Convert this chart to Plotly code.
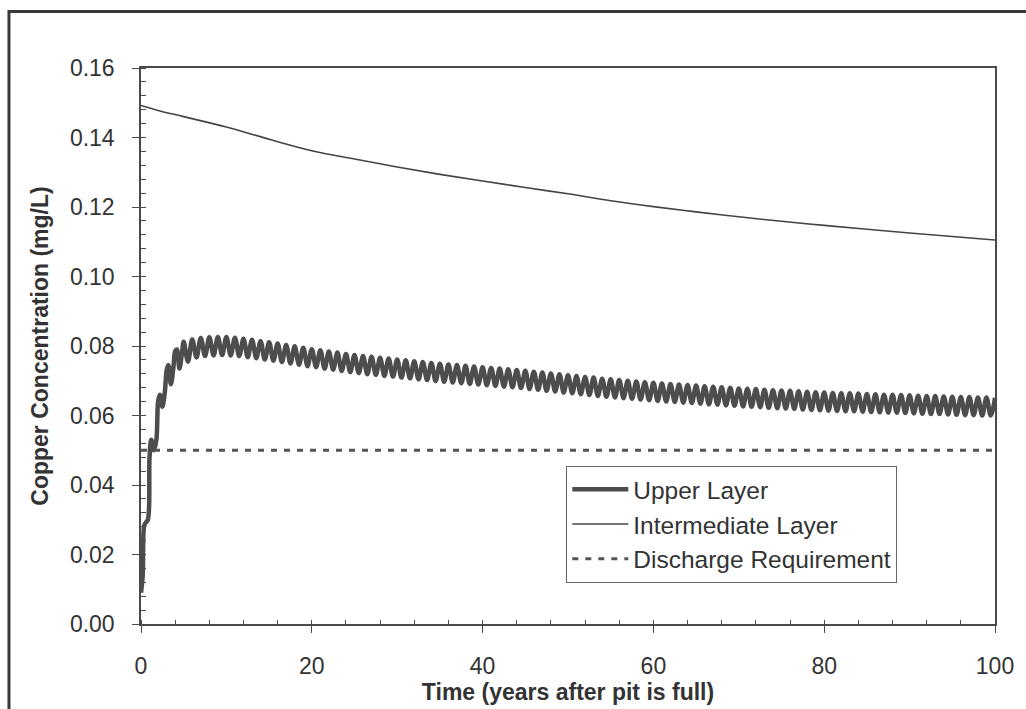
import numpy as np
import plotly.graph_objects as go

# ---------------- data ----------------
# Upper layer: early build-up (years, mg/L)
upper_early_t = [0.0, 0.2, 0.35, 0.5, 0.8, 1.0, 1.2, 1.5, 1.8, 2.0, 2.2, 2.5, 2.8,
                 3.0, 3.2, 3.5, 3.8, 4.0, 4.2, 4.5, 4.8, 5.0, 5.5]
upper_early_v = [0.009, 0.014, 0.028, 0.029, 0.030, 0.048, 0.053, 0.050, 0.053,
                 0.064, 0.066, 0.0625, 0.067, 0.073, 0.0745, 0.069, 0.074, 0.0785,
                 0.079, 0.0735, 0.078, 0.0812, 0.0755]

# Upper layer: seasonal peaks (at whole years 6..100) and troughs (mid-year 6.5..99.5)
upper_peak_years = list(range(6, 101))
upper_peaks = [
    0.0819, 0.0823, 0.0825, 0.0826, 0.0826, 0.0824, 0.0821, 0.0818, 0.0814, 0.0811,
    0.0807, 0.0803, 0.0799, 0.0795, 0.0791, 0.0788, 0.0784, 0.0781, 0.0777, 0.0774,
    0.0771, 0.0769, 0.0766, 0.0764, 0.0761, 0.0759, 0.0756, 0.0754, 0.0751, 0.0749,
    0.0747, 0.0745, 0.0743, 0.0741, 0.0739, 0.0737, 0.0735, 0.0733, 0.0731, 0.0729,
    0.0726, 0.0724, 0.0721, 0.0719, 0.0716, 0.0714, 0.0711, 0.0709, 0.0706, 0.0704,
    0.0702, 0.0700, 0.0698, 0.0696, 0.0694, 0.0692, 0.0691, 0.0689, 0.0688, 0.0686,
    0.0684, 0.0683, 0.0681, 0.0680, 0.0678, 0.0677, 0.0676, 0.0674, 0.0673, 0.0672,
    0.0671, 0.0670, 0.0668, 0.0667, 0.0666, 0.0665, 0.0664, 0.0664, 0.0663, 0.0662,
    0.0661, 0.0660, 0.0660, 0.0659, 0.0658, 0.0657, 0.0656, 0.0656, 0.0655, 0.0654,
    0.0653, 0.0653, 0.0652, 0.0652, 0.0651]
upper_troughs = [
    0.0767, 0.0771, 0.0773, 0.0774, 0.0773, 0.0771, 0.0768, 0.0765, 0.0761, 0.0758,
    0.0754, 0.0750, 0.0746, 0.0742, 0.0739, 0.0735, 0.0732, 0.0728, 0.0725, 0.0722,
    0.0719, 0.0717, 0.0714, 0.0712, 0.0709, 0.0707, 0.0704, 0.0702, 0.0699, 0.0697,
    0.0695, 0.0693, 0.0691, 0.0689, 0.0687, 0.0685, 0.0683, 0.0681, 0.0679, 0.0676,
    0.0674, 0.0671, 0.0669, 0.0666, 0.0664, 0.0661, 0.0659, 0.0656, 0.0654, 0.0652,
    0.0650, 0.0648, 0.0646, 0.0644, 0.0642, 0.0640, 0.0639, 0.0637, 0.0636, 0.0634,
    0.0632, 0.0631, 0.0629, 0.0628, 0.0626, 0.0625, 0.0624, 0.0622, 0.0621, 0.0620,
    0.0619, 0.0617, 0.0616, 0.0615, 0.0614, 0.0613, 0.0612, 0.0612, 0.0611, 0.0610,
    0.0609, 0.0608, 0.0608, 0.0607, 0.0606, 0.0605, 0.0604, 0.0604, 0.0603, 0.0602,
    0.0601, 0.0601, 0.0600, 0.0600]

# Intermediate layer
inter_t = [0, 2, 5, 10, 15, 20, 25, 30, 35, 40, 45, 50, 55, 60, 65, 70, 75, 80, 85, 90, 95, 100]
inter_v = [0.1492, 0.1478, 0.1460, 0.1430, 0.1395, 0.1362, 0.1338, 0.1315, 0.1294, 0.1275,
           0.1256, 0.1238, 0.1218, 0.1201, 0.1186, 0.1172, 0.1159, 0.1147, 0.1136, 0.1125,
           0.1115, 0.1105]

# Discharge requirement
discharge_t = [0, 100]
discharge_v = [0.05, 0.05]

# ---------------- build upper series ----------------
ut = list(upper_early_t)
uv = list(upper_early_v)
for i, yr in enumerate(upper_peak_years):
    ut.append(yr)
    uv.append(upper_peaks[i])
    if i < len(upper_troughs):
        ut.append(yr + 0.5)
        uv.append(upper_troughs[i])

FONT = "Liberation Sans, Arial, sans-serif"
TXT = "#333333"
AX = "#4a4a4a"

fig = go.Figure()
fig.add_trace(go.Scatter(x=ut, y=uv, mode="lines", name="Upper Layer",
                         line=dict(color="#4d4d4d", width=4.5, shape="spline", smoothing=1)))
fig.add_trace(go.Scatter(x=inter_t, y=inter_v, mode="lines", name="Intermediate Layer",
                         line=dict(color="#444444", width=1.6, shape="spline")))
fig.add_trace(go.Scatter(x=discharge_t, y=discharge_v, mode="lines", name="Discharge Requirement",
                         line=dict(color="#555555", width=3, dash="6px,7px")))

fig.update_layout(
    width=1026, height=709,
    margin=dict(l=141, r=31, t=68, b=79),
    paper_bgcolor="white", plot_bgcolor="white",
    font=dict(family=FONT, size=23, color=TXT),
    showlegend=True,
    legend=dict(x=0.498, y=0.2847, xanchor="left", yanchor="top",
                bgcolor="white", bordercolor="#666666", borderwidth=1,
                font=dict(family=FONT, size=24.5, color=TXT),
                itemwidth=56, tracegroupgap=0),
    shapes=[dict(type="rect", xref="paper", yref="paper",
                 x0=-0.1546, x1=1.2, y0=-0.3, y1=1.1014,
                 line=dict(color="#3a3a3a", width=3), layer="above")],
)

fig.update_xaxes(
    range=[0, 100], dtick=20, tick0=0,
    showgrid=False, zeroline=False,
    showline=True, linecolor=AX, linewidth=1.5, mirror=True,
    ticks="outside", ticklen=7, tickwidth=1.2, tickcolor=AX,
    ticklabelstandoff=14,
    tickfont=dict(family=FONT, size=23, color=TXT),
    minor=dict(dtick=4, tick0=0, ticks="inside", ticklen=4, tickwidth=1, tickcolor=AX),
    title=dict(text="<b>Time (years after pit is full)</b>", standoff=2,
               font=dict(family=FONT, size=23, color=TXT)),
)
fig.update_yaxes(
    range=[0, 0.16], dtick=0.02, tick0=0, tickformat=".2f",
    showgrid=False, zeroline=False,
    showline=True, linecolor=AX, linewidth=1.5, mirror=True,
    ticks="outside", ticklen=7, tickwidth=1.2, tickcolor=AX,
    ticklabelstandoff=13,
    tickfont=dict(family=FONT, size=23, color=TXT),
    minor=dict(dtick=0.004, tick0=0, ticks="inside", ticklen=5, tickwidth=1, tickcolor=AX),
    title=dict(text="<b>Copper Concentration (mg/L)</b>", standoff=15,
               font=dict(family=FONT, size=23, color=TXT)),
)

fig.write_html("out.html")
